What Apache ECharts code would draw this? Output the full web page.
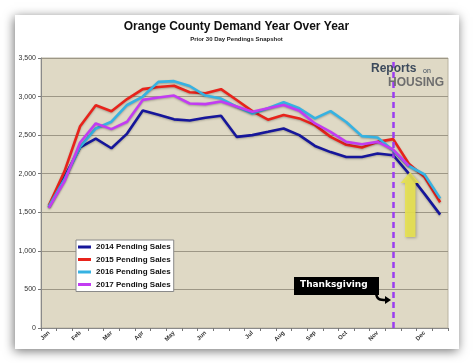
<!DOCTYPE html>
<html>
<head>
<meta charset="utf-8">
<script src="https://cdn.jsdelivr.net/npm/echarts@6/dist/echarts.min.js"></script>
<style>
html,body{margin:0;padding:0;background:#fff;}
#c{width:473px;height:363px;}
</style>
</head>
<body>
<div id="c"></div>
<script>
const categories = ['Jan','','Feb','','Mar','','Apr','','May','','Jun','','','Jul','','Aug','','Sep','','Oct','','Nov','','','Dec',''];
const yTicks = [0,500,1000,1500,2000,2500,3000,3500];
const s2014 = [1565,1960,2340,2455,2330,2520,2820,2765,2705,2690,2725,2752,2478,2500,2543,2587,2500,2360,2280,2217,2217,2261,2239,2000,1739,1470];
const s2015 = [1587,2030,2615,2888,2810,2968,3097,3125,3140,3057,3043,3096,2956,2812,2700,2761,2717,2630,2478,2375,2339,2413,2448,2130,1957,1630];
const s2016 = [1575,1930,2348,2587,2674,2891,3000,3190,3200,3137,3013,2974,2870,2780,2848,2927,2848,2717,2812,2670,2487,2470,2300,2100,1990,1680];
const s2017 = [1557,1900,2405,2652,2578,2674,2957,2987,3013,2910,2902,2935,2870,2804,2848,2891,2817,2652,2543,2413,2383,2413,2313,2100];
const seriesNames = ['2014 Pending Sales','2015 Pending Sales','2016 Pending Sales','2017 Pending Sales'];
const thanksgivingIndex = 22;

const FONT = '"Liberation Sans", Arial, sans-serif';
const chart = echarts.init(document.getElementById('c'), null, {renderer:'canvas'});

function lineSeries(name, data, color, z) {
  return {
    name, type:'line', data, symbol:'none', z,
    lineStyle:{color, width:2.6, shadowColor:'rgba(0,0,0,0.25)', shadowBlur:2, shadowOffsetY:1},
    itemStyle:{color}
  };
}

const series = [
  lineSeries(seriesNames[0], s2014, '#16169a', 3),
  lineSeries(seriesNames[1], s2015, '#e8231b', 4),
  lineSeries(seriesNames[2], s2016, '#36b2e2', 5),
  lineSeries(seriesNames[3], s2017, '#c23cf2', 6)
];
series[3].markLine = {
  silent:true, symbol:['none','none'], clip:false,
  lineStyle:{color:'#9b3df0', width:2.5, type:[6,4]},
  label:{show:false},
  data:[{xAxis:thanksgivingIndex}]
};

chart.setOption({
  animation:false,
  backgroundColor:'#ffffff',
  textStyle:{fontFamily:FONT},
  title:{
    text:'Orange County Demand Year Over Year',
    subtext:'Prior 30 Day Pendings Snapshot',
    left:'center', top:16, itemGap:3,
    textStyle:{fontSize:12, fontWeight:'bold', color:'#111', fontFamily:FONT},
    subtextStyle:{fontSize:6, fontWeight:'bold', color:'#222', fontFamily:FONT}
  },
  grid:{left:41, right:25, top:58, bottom:35, show:true, backgroundColor:'#dfd9c5', borderColor:'#b9b3a1', borderWidth:1},
  legend:{
    orient:'vertical', left:76, top:240,
    backgroundColor:'#ffffff', borderColor:'#8a8a8a', borderWidth:1,
    padding:[2,3,2,2], itemGap:2.5, itemWidth:13, itemHeight:3, icon:'rect',
    textStyle:{fontSize:8, fontWeight:'bold', color:'#111', fontFamily:FONT, lineHeight:10},
    data:seriesNames
  },
  xAxis:{
    type:'category', data:categories, boundaryGap:true,
    axisLine:{lineStyle:{color:'#8a8a8a', width:1}},
    axisTick:{show:true, interval:0, length:3, lineStyle:{color:'#777'}},
    axisLabel:{interval:0, rotate:45, fontSize:6, fontWeight:'bold', color:'#333', margin:4, fontFamily:FONT},
    splitLine:{show:false}
  },
  yAxis:{
    type:'value', min:yTicks[0], max:yTicks[yTicks.length-1], interval:500,
    axisLine:{show:true, lineStyle:{color:'#8a8a8a', width:1}},
    axisTick:{show:true, length:3, lineStyle:{color:'#777'}},
    axisLabel:{fontSize:7, color:'#333', margin:5, fontFamily:FONT,
      formatter:v=>v.toLocaleString('en-US')},
    splitLine:{lineStyle:{color:'#9d9786', width:1}}
  },
  graphic:[
    {type:'rect', z:-100, shape:{x:15, y:15, width:444, height:334},
     style:{fill:'#ffffff', shadowBlur:10, shadowColor:'rgba(0,0,0,0.55)', shadowOffsetX:-1, shadowOffsetY:2}},
    {type:'text', z:50, x:371, y:63, style:{text:'Reports', fill:'#3c4a5c', font:'bold 12px "Liberation Sans", Arial'}},
    {type:'text', z:50, x:423, y:68, style:{text:'on', fill:'#3c4a5c', font:'7px "Liberation Sans", Arial'}},
    {type:'text', z:50, x:388, y:77, style:{text:'HOUSING', fill:'#6e6e6e', font:'bold 12px "Liberation Sans", Arial'}},
    {type:'polygon', z:60, shape:{points:[[410,172],[419.5,183],[415.5,183],[415.5,237],[405,237],[405,183],[400.5,183]]},
     style:{fill:'rgba(232,226,80,0.9)', shadowBlur:3, shadowColor:'rgba(0,0,0,0.3)', shadowOffsetX:1, shadowOffsetY:1}},
    {type:'rect', z:60, shape:{x:294, y:277, width:85, height:18}, style:{fill:'#000'}},
    {type:'text', z:61, x:300, y:280, style:{text:'Thanksgiving', fill:'#fff', font:'bold 9px "DejaVu Sans", sans-serif'}},
    {type:'bezierCurve', z:60, shape:{x1:376, y1:293, cpx1:377, cpy1:300, cpx2:380, cpy2:300, x2:386, y2:300}, style:{stroke:'#000', lineWidth:2.5, fill:null}},
    {type:'polygon', z:60, shape:{points:[[385,296],[391,300],[385,304]]}, style:{fill:'#000'}}
  ],
  series
});
</script>
</body>
</html>
